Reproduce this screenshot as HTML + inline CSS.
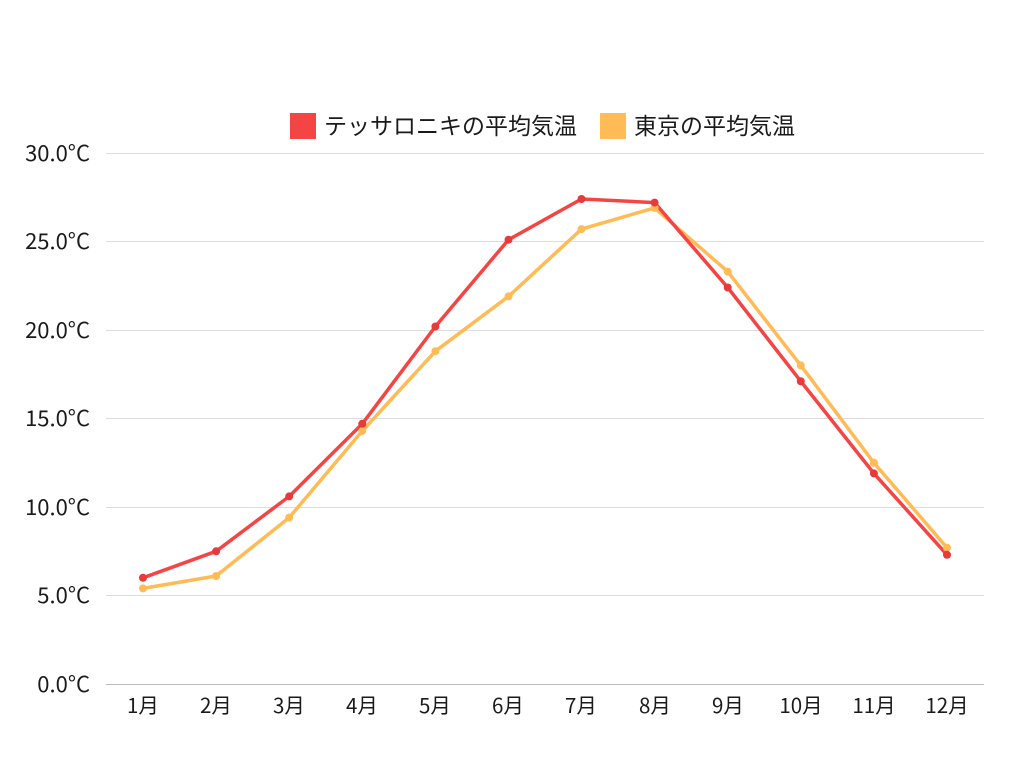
<!DOCTYPE html>
<html><head><meta charset="utf-8"><style>
html,body{margin:0;padding:0;background:#fff;}
svg text{font-family:"Noto Sans CJK JP","Liberation Sans",sans-serif;fill:#1a1a1a;}
</style></head><body>
<svg width="1024" height="768" xmlns="http://www.w3.org/2000/svg">
<g stroke="#ddd" stroke-width="1">
<line x1="106" y1="153.5" x2="984" y2="153.5"/>
<line x1="106" y1="241.5" x2="984" y2="241.5"/>
<line x1="106" y1="330.5" x2="984" y2="330.5"/>
<line x1="106" y1="418.5" x2="984" y2="418.5"/>
<line x1="106" y1="507.5" x2="984" y2="507.5"/>
<line x1="106" y1="595.5" x2="984" y2="595.5"/>
</g>
<line x1="106" y1="684.5" x2="984" y2="684.5" stroke="#bbb" stroke-width="1"/>
<g font-size="22" text-anchor="end">
<text x="90" y="161">30.0°C</text>
<text x="90" y="249">25.0°C</text>
<text x="90" y="338">20.0°C</text>
<text x="90" y="426">15.0°C</text>
<text x="90" y="515">10.0°C</text>
<text x="90" y="603">5.0°C</text>
<text x="90" y="692">0.0°C</text>
</g>
<g font-size="20.5" text-anchor="middle">
<text x="143" y="713">1月</text><text x="216" y="713">2月</text><text x="289" y="713">3月</text>
<text x="362" y="713">4月</text><text x="435" y="713">5月</text><text x="508" y="713">6月</text>
<text x="581" y="713">7月</text><text x="655" y="713">8月</text><text x="728" y="713">9月</text>
<text x="801" y="713">10月</text><text x="874" y="713">11月</text><text x="947" y="713">12月</text>
</g>
<rect x="290" y="113" width="26" height="26" fill="#f44444"/>
<text x="324" y="134" font-size="23">テッサロニキの平均気温</text>
<rect x="600" y="113" width="26" height="26" fill="#ffbb55"/>
<text x="634" y="134" font-size="23">東京の平均気温</text>
<g fill="none" stroke-width="3.5" stroke-linejoin="round">
<polyline stroke="#ffbb55" points="143,588.4 216.1,576 289.2,517.6 362.3,430.9 435.4,351.2 508.5,296.4 581.5,229.1 654.6,207.9 727.7,271.6 800.8,365.4 873.9,462.8 947,547.7"/>
<polyline stroke="#f44444" points="143,577.8 216.1,551.3 289.2,496.4 362.3,423.8 435.4,326.5 508.5,239.7 581.5,199 654.6,202.6 727.7,287.5 800.8,381.3 873.9,473.4 947,554.8"/>
</g>
<g fill="#ffbb55">
<circle cx="143" cy="588.4" r="4"/><circle cx="216.1" cy="576" r="4"/><circle cx="289.2" cy="517.6" r="4"/><circle cx="362.3" cy="430.9" r="4"/><circle cx="435.4" cy="351.2" r="4"/><circle cx="508.5" cy="296.4" r="4"/><circle cx="581.5" cy="229.1" r="4"/><circle cx="654.6" cy="207.9" r="4"/><circle cx="727.7" cy="271.6" r="4"/><circle cx="800.8" cy="365.4" r="4"/><circle cx="873.9" cy="462.8" r="4"/><circle cx="947" cy="547.7" r="4"/>
</g>
<g fill="#e83a3a">
<circle cx="143" cy="577.8" r="4"/><circle cx="216.1" cy="551.3" r="4"/><circle cx="289.2" cy="496.4" r="4"/><circle cx="362.3" cy="423.8" r="4"/><circle cx="435.4" cy="326.5" r="4"/><circle cx="508.5" cy="239.7" r="4"/><circle cx="581.5" cy="199" r="4"/><circle cx="654.6" cy="202.6" r="4"/><circle cx="727.7" cy="287.5" r="4"/><circle cx="800.8" cy="381.3" r="4"/><circle cx="873.9" cy="473.4" r="4"/><circle cx="947" cy="554.8" r="4"/>
</g>
</svg>
</body></html>
